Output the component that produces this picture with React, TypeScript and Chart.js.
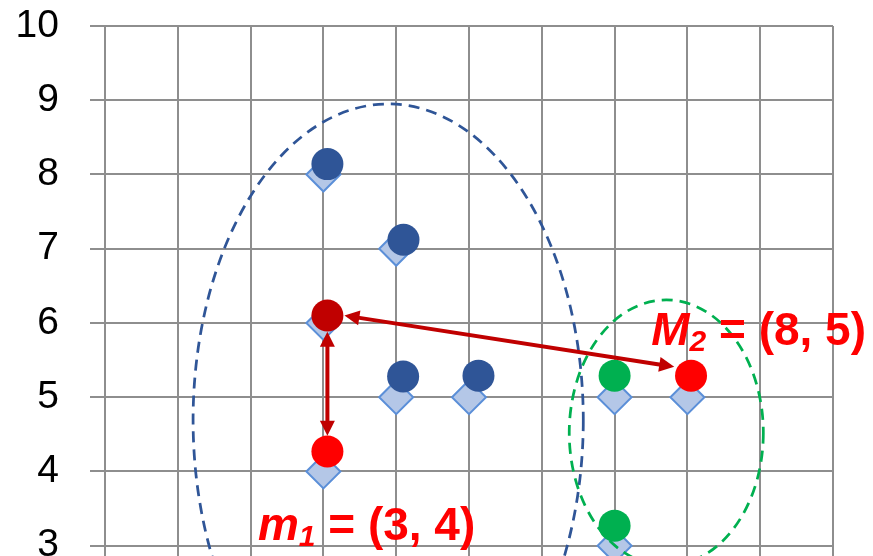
import React, { useEffect, useRef } from "react";
import { Chart, registerables } from "chart.js";

Chart.register(...registerables);

// Reference grid points (diamonds)
const diamondX = [3, 4, 3, 4, 5, 3, 7, 8, 7];
const diamondY = [8, 7, 6, 5, 5, 4, 5, 5, 3];

// Cluster members and medoids (circles)
const blueX = [3.055, 4.1, 4.095, 5.13];
const blueY = [8.14, 7.12, 5.28, 5.29];
const greenX = [7.0, 7.0];
const greenY = [5.29, 3.27];
const redX = [3.055, 8.05];
const redY = [4.27, 5.29];
const darkRedX = [3.055];
const darkRedY = [6.1];

// Cluster outlines: [centerX, centerY, radiusX, radiusY]
const blueCluster = [3.89, 4.69, 2.68, 4.26];
const greenCluster = [7.71, 4.52, 1.333, 1.79];

// Double-headed arrows: [x1, y1, x2, y2]
const shortArrow = [3.055, 5.88, 3.055, 4.48];
const longArrow = [3.289, 6.1, 7.819, 5.41];

// Annotation anchors (left, baseline) in data units
const m1Anchor = [2.1, 3.08];
const m2Anchor = [7.503, 5.7];

const yTickMin = 0;
const yTickMax = 10;
const xTickMin = 0;
const xTickMax = 10;

const zip = (xs: number[], ys: number[]) => xs.map((x, i) => ({ x, y: ys[i] }));

const GRID = "#8e8e8e";

function drawArrowHead(ctx: CanvasRenderingContext2D, tx: number, ty: number, fx: number, fy: number) {
  const ang = Math.atan2(ty - fy, tx - fx);
  const len = 15;
  const half = 7.5;
  ctx.beginPath();
  ctx.moveTo(tx, ty);
  ctx.lineTo(tx - len * Math.cos(ang) + half * Math.sin(ang), ty - len * Math.sin(ang) - half * Math.cos(ang));
  ctx.lineTo(tx - len * Math.cos(ang) - half * Math.sin(ang), ty - len * Math.sin(ang) + half * Math.cos(ang));
  ctx.closePath();
  ctx.fill();
}

function drawDoubleArrow(ctx: CanvasRenderingContext2D, x1: number, y1: number, x2: number, y2: number) {
  const ang = Math.atan2(y2 - y1, x2 - x1);
  const inset = 12;
  ctx.beginPath();
  ctx.moveTo(x1 + inset * Math.cos(ang), y1 + inset * Math.sin(ang));
  ctx.lineTo(x2 - inset * Math.cos(ang), y2 - inset * Math.sin(ang));
  ctx.stroke();
  drawArrowHead(ctx, x1, y1, x2, y2);
  drawArrowHead(ctx, x2, y2, x1, y1);
}

function drawLabel(
  ctx: CanvasRenderingContext2D,
  x: number,
  y: number,
  main: string,
  sub: string,
  rest: string
) {
  const family = '"Liberation Sans", Arial, sans-serif';
  ctx.fillStyle = "#ff0000";
  ctx.textBaseline = "alphabetic";
  ctx.textAlign = "left";
  ctx.font = `italic bold 46px ${family}`;
  ctx.fillText(main, x, y);
  let cx = x + ctx.measureText(main).width;
  ctx.font = `italic bold 30px ${family}`;
  ctx.fillText(sub, cx, y + 6);
  cx += ctx.measureText(sub).width;
  ctx.font = `bold 46px ${family}`;
  ctx.fillText(rest, cx, y);
}

const overlayPlugin = {
  id: "clusterOverlay",
  afterDatasetsDraw(chart: any) {
    const { ctx, scales } = chart;
    const xs = scales.x;
    const ys = scales.y;
    const px = (v: number) => xs.getPixelForValue(v);
    const py = (v: number) => ys.getPixelForValue(v);

    ctx.save();
    // cluster outlines
    const drawEllipse = (e: number[], color: string) => {
      const cx = px(e[0]);
      const cy = py(e[1]);
      const rx = Math.abs(px(e[0] + e[2]) - cx);
      const ry = Math.abs(py(e[1] + e[3]) - cy);
      ctx.beginPath();
      ctx.setLineDash([11, 7]);
      ctx.lineWidth = 2.75;
      ctx.strokeStyle = color;
      ctx.ellipse(cx, cy, rx, ry, 0, 0, Math.PI * 2);
      ctx.stroke();
    };
    drawEllipse(blueCluster, "#2f5597");
    drawEllipse(greenCluster, "#00b050");
    ctx.setLineDash([]);

    // distance arrows
    ctx.strokeStyle = "#c00000";
    ctx.fillStyle = "#c00000";
    ctx.lineWidth = 4;
    drawDoubleArrow(ctx, px(shortArrow[0]), py(shortArrow[1]), px(shortArrow[2]), py(shortArrow[3]));
    drawDoubleArrow(ctx, px(longArrow[0]), py(longArrow[1]), px(longArrow[2]), py(longArrow[3]));

    // medoid labels
    drawLabel(ctx, px(m2Anchor[0]), py(m2Anchor[1]), "M", "2", " = (8, 5)");
    drawLabel(ctx, px(m1Anchor[0]), py(m1Anchor[1]), "m", "1", " = (3, 4)");
    ctx.restore();
  },
};

export default function App() {
  const canvasRef = useRef<HTMLCanvasElement | null>(null);

  useEffect(() => {
    if (!canvasRef.current) return;
    const circle = (data: { x: number; y: number }[], color: string) => ({
      data,
      pointStyle: "circle" as const,
      pointRadius: 16,
      pointHoverRadius: 16,
      pointBackgroundColor: color,
      pointBorderColor: color,
      pointBorderWidth: 0,
      showLine: false,
    });
    const chart = new Chart(canvasRef.current, {
      type: "scatter",
      data: {
        datasets: [
          circle(zip(darkRedX, darkRedY), "#c00000"),
          circle(zip(redX, redY), "#ff0000"),
          circle(zip(greenX, greenY), "#00b050"),
          circle(zip(blueX, blueY), "#2f5597"),
          {
            data: zip(diamondX, diamondY),
            pointStyle: "rectRot",
            pointRadius: 17,
            pointHoverRadius: 17,
            pointBackgroundColor: "#b4c7e7",
            pointBorderColor: "#5b8fd8",
            pointBorderWidth: 2,
            showLine: false,
          },
        ],
      },
      options: {
        responsive: false,
        animation: false,
        events: [],
        layout: { padding: { top: 26, right: 40, left: 0, bottom: 31.6 } },
        plugins: {
          legend: { display: false },
          tooltip: { enabled: false },
        },
        scales: {
          x: {
            type: "linear",
            min: xTickMin,
            max: xTickMax,
            ticks: { display: false, stepSize: 1 },
            grid: { color: GRID, lineWidth: 2, drawTicks: false },
            border: { color: GRID, width: 2 },
          },
          y: {
            type: "linear",
            min: yTickMin,
            max: yTickMax,
            ticks: {
              stepSize: 1,
              color: "#000000",
              padding: 31,
              font: { family: '"Liberation Sans", Arial, sans-serif', size: 39 },
            },
            grid: { color: GRID, lineWidth: 2, drawTicks: true, tickLength: 15 },
            border: { color: GRID, width: 2 },
            afterFit: (scale: any) => {
              scale.width = 105;
              scale.paddingTop = 0;
              scale.paddingBottom = 0;
            },
          },
        },
      },
      plugins: [overlayPlugin],
    });
    return () => chart.destroy();
  }, []);

  return (
    <div
      style={{
        position: "absolute",
        left: 0,
        top: 0,
        width: 873,
        height: 556,
        overflow: "hidden",
        background: "#ffffff",
      }}
    >
      <canvas ref={canvasRef} width={873} height={800} style={{ display: "block" }} />
    </div>
  );
}
